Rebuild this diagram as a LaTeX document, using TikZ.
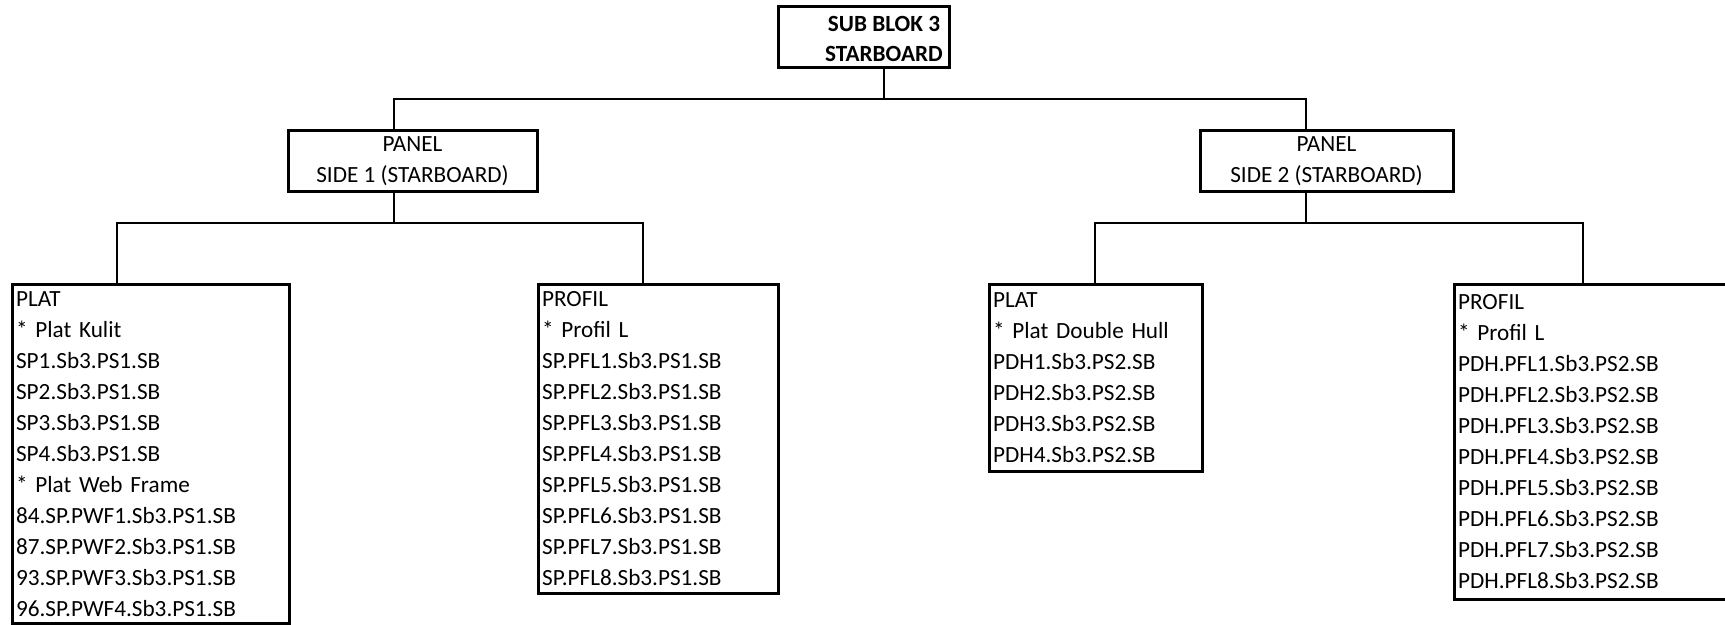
\documentclass[tikz,border=0pt]{standalone}
\usepackage{fontspec}
\setmainfont{Carlito}
\begin{document}
\begin{tikzpicture}[x=0.5pt, y=-0.5pt,
	font=\fontsize{11.6pt}{15.5pt}\selectfont,
	frame/.style={draw, line width=1.5pt, inner sep=0pt},
	panelbox/.style={frame, minimum height=30.5pt, align=center},
	leafbox/.style={frame, anchor=north west, align=left, inner xsep=1.8pt},
	conn/.style={line width=1pt}]
	\useasboundingbox (0,0) rectangle (1725,625);

	% top block
	\node[frame, minimum width=85.5pt, minimum height=30.5pt] (top) at (863.5,37.5) {};
	\node[font=\fontsize{11.6pt}{15pt}\selectfont\bfseries, align=center] (toptxt) at (884,39) {SUB BLOK 3\\STARBOARD};

	% panels
	\node[panelbox, minimum width=124.5pt] (p1) at (412.5,161.5) {PANEL\\SIDE 1 (STARBOARD)};
	\node[panelbox, minimum width=126.5pt] (p2) at (1326.5,161.5) {PANEL\\SIDE 2 (STARBOARD)};

	% leaves
	\node[leafbox, minimum width=138.5pt, minimum height=169.5pt, text width=134.9pt] (l1) at (11,283)
		{PLAT\\{*} Plat Kulit\\SP1.Sb3.PS1.SB\\SP2.Sb3.PS1.SB\\SP3.Sb3.PS1.SB\\SP4.Sb3.PS1.SB\\{*} Plat Web Frame\\84.SP.PWF1.Sb3.PS1.SB\\87.SP.PWF2.Sb3.PS1.SB\\93.SP.PWF3.Sb3.PS1.SB\\96.SP.PWF4.Sb3.PS1.SB};
	\node[leafbox, minimum width=120pt, minimum height=154.5pt, text width=116.4pt] (l2) at (537,283)
		{PROFIL\\{*} Profil L\\SP.PFL1.Sb3.PS1.SB\\SP.PFL2.Sb3.PS1.SB\\SP.PFL3.Sb3.PS1.SB\\SP.PFL4.Sb3.PS1.SB\\SP.PFL5.Sb3.PS1.SB\\SP.PFL6.Sb3.PS1.SB\\SP.PFL7.Sb3.PS1.SB\\SP.PFL8.Sb3.PS1.SB};
	\node[leafbox, minimum width=106.5pt, minimum height=93.5pt, text width=102.9pt] (l3) at (988,283)
		{PLAT\\{*} Plat Double Hull\\PDH1.Sb3.PS2.SB\\PDH2.Sb3.PS2.SB\\PDH3.Sb3.PS2.SB\\PDH4.Sb3.PS2.SB};
	\node[leafbox, minimum width=143.5pt, minimum height=157.5pt, text width=139.9pt] (l4) at (1453,283)
		{PROFIL\\{*} Profil L\\PDH.PFL1.Sb3.PS2.SB\\PDH.PFL2.Sb3.PS2.SB\\PDH.PFL3.Sb3.PS2.SB\\PDH.PFL4.Sb3.PS2.SB\\PDH.PFL5.Sb3.PS2.SB\\PDH.PFL6.Sb3.PS2.SB\\PDH.PFL7.Sb3.PS2.SB\\PDH.PFL8.Sb3.PS2.SB};

	% junctions
	\coordinate (j0) at (884,99);
	\coordinate (j1) at (394,99);
	\coordinate (j2) at (1306,99);
	\coordinate (k1) at (394,223);
	\coordinate (k2) at (1306,223);
	\coordinate (c1) at (117,223);
	\coordinate (c2) at (643,223);
	\coordinate (c3) at (1095,223);
	\coordinate (c4) at (1583,223);

	% connectors
	\draw[conn] (top.south -| toptxt) -- (j0);
	\draw[conn] (j1 |- p1.north) -- (j1) -- (j2) -- (j2 |- p2.north);
	\draw[conn] (p1.south -| k1) -- (k1);
	\draw[conn] (p2.south -| k2) -- (k2);
	\draw[conn] (c1 |- l1.north) -- (c1) -- (c2) -- (c2 |- l2.north);
	\draw[conn] (c3 |- l3.north) -- (c3) -- (c4) -- (c4 |- l4.north);
\end{tikzpicture}
\end{document}
